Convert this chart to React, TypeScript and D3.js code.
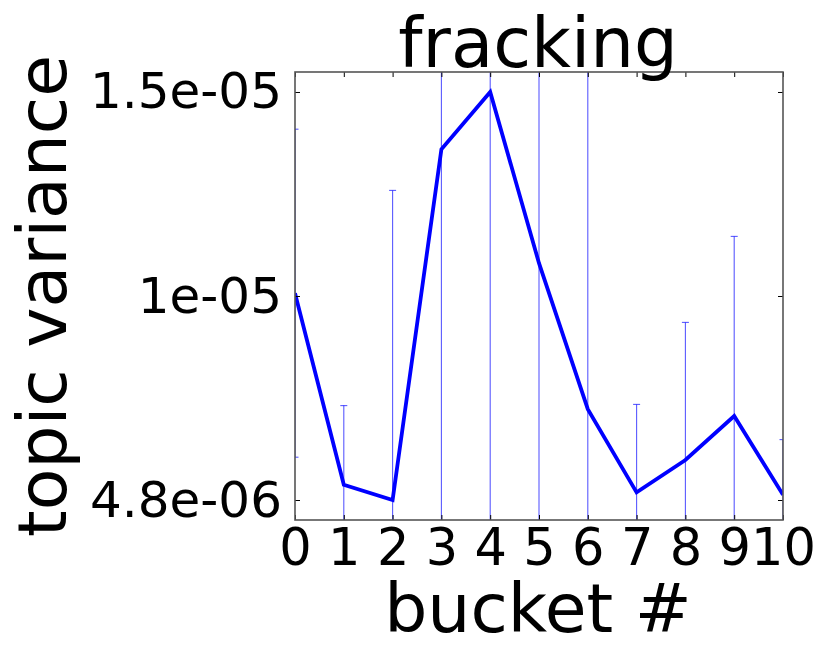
import React, { useEffect, useRef } from 'react'
import * as d3 from 'd3'

const title = 'fracking'
const xLabel = 'bucket #'
const yLabel = 'topic variance'
const buckets = [0, 1, 2, 3, 4, 5, 6, 7, 8, 9, 10]
const variance = [9.97e-6, 5.18e-6, 4.8e-6, 1.357e-5, 1.5e-5, 1.072e-5, 7.07e-6, 4.99e-6, 5.8e-6, 6.9e-6, 4.93e-6]
const varianceErr = [4.1e-6, 1.98e-6, 7.74e-6, 1.2e-5, 1.3e-5, 1.1e-5, 9.0e-6, 2.2e-6, 3.44e-6, 4.49e-6, 1.38e-6]
const yTickLabels = ['4.8e-06', '1e-05', '1.5e-05']

export default function App() {
    const ref = useRef<SVGSVGElement>(null)

    useEffect(() => {
        const el = ref.current
        if (!el) return
        const svg = d3.select(el)
        svg.selectAll('*').remove()

        const left = 295, right = 783, top = 72, bottom = 520
        const font = 'DejaVu Sans'

        const x = d3.scaleLinear().domain([0, 10]).range([left, right])
        const yMin = d3.min(variance)!
        const yMax = d3.max(variance)!
        const pad = (yMax - yMin) * 0.049
        const y = d3.scaleLinear().domain([yMin - pad, yMax + pad]).range([bottom, top])
        const yTicks = [yMin, (yMin + yMax) / 2, yMax]

        svg.append('defs').append('clipPath').attr('id', 'plotclip')
            .append('rect').attr('x', left).attr('y', top).attr('width', right - left).attr('height', bottom - top)

        const data = buckets.map((b, i) => ({ b, v: variance[i], e: varianceErr[i] }))

        // error bars
        const eb = svg.append('g').attr('clip-path', 'url(#plotclip)')
            .attr('stroke', '#0000ff').attr('stroke-opacity', 0.65).attr('stroke-width', 1.1)
        data.forEach(d => {
            const cx = x(d.b)
            eb.append('line').attr('x1', cx).attr('x2', cx).attr('y1', y(d.v - d.e)).attr('y2', y(d.v + d.e))
            eb.append('line').attr('x1', cx - 3.5).attr('x2', cx + 3.5).attr('y1', y(d.v + d.e)).attr('y2', y(d.v + d.e))
            eb.append('line').attr('x1', cx - 3.5).attr('x2', cx + 3.5).attr('y1', y(d.v - d.e)).attr('y2', y(d.v - d.e))
        })

        const line = d3.line<{ b: number, v: number }>().x(d => x(d.b)).y(d => y(d.v))
        svg.append('path').attr('clip-path', 'url(#plotclip)').attr('d', line(data))
            .attr('fill', 'none').attr('stroke', '#0000ff').attr('stroke-width', 3.8).attr('stroke-linejoin', 'miter')

        // axes, ticks inward
        const styleAxis = (g: any, showText: boolean) => {
            g.select('.domain').remove()
            g.selectAll('.tick line').attr('stroke', '#000').attr('stroke-width', 1)
            g.selectAll('.tick text').attr('fill', '#000').style('font-family', font)
            if (!showText) g.selectAll('.tick text').remove()
        }
        const ax = d3.axisBottom(x).tickValues(buckets).tickSizeInner(-5).tickSizeOuter(0).tickPadding(9).tickFormat(d3.format('d'))
        const axTop = d3.axisTop(x).tickValues(buckets).tickSizeInner(-5).tickSizeOuter(0)
        const ay = d3.axisLeft(y).tickValues(yTicks).tickSizeInner(-5).tickSizeOuter(0).tickPadding(13)
            .tickFormat((_d, i) => yTickLabels[i])
        const ayRight = d3.axisRight(y).tickValues(yTicks).tickSizeInner(-5).tickSizeOuter(0)

        svg.append('g').attr('transform', `translate(0,${bottom})`).call(ax).attr('font-size', 51).call(g => styleAxis(g, true))
        svg.append('g').attr('transform', `translate(0,${top})`).call(axTop).call(g => styleAxis(g, false))
        svg.append('g').attr('transform', `translate(${left},0)`).call(ay).attr('font-size', 50).call(g => styleAxis(g, true))
        svg.append('g').attr('transform', `translate(${right},0)`).call(ayRight).call(g => styleAxis(g, false))

        svg.append('rect').attr('x', left).attr('y', top).attr('width', right - left).attr('height', bottom - top)
            .attr('fill', 'none').attr('stroke', '#555').attr('stroke-width', 1.6)

        svg.append('text').text(title).attr('x', (left + right) / 2 - 1).attr('y', 67)
            .attr('text-anchor', 'middle').attr('font-size', 69).style('font-family', font)
        svg.append('text').text(xLabel).attr('x', (left + right) / 2 - 1).attr('y', 632)
            .attr('text-anchor', 'middle').attr('font-size', 68).style('font-family', font)
        svg.append('text').text(yLabel).attr('transform', 'translate(66,296) rotate(-90)')
            .attr('text-anchor', 'middle').attr('font-size', 68).style('font-family', font)
    }, [])

    return (
        <svg ref={ref} width={830} height={664}
            style={{ position: 'absolute', left: 0, top: 0, background: '#fff' }} />
    )
}
